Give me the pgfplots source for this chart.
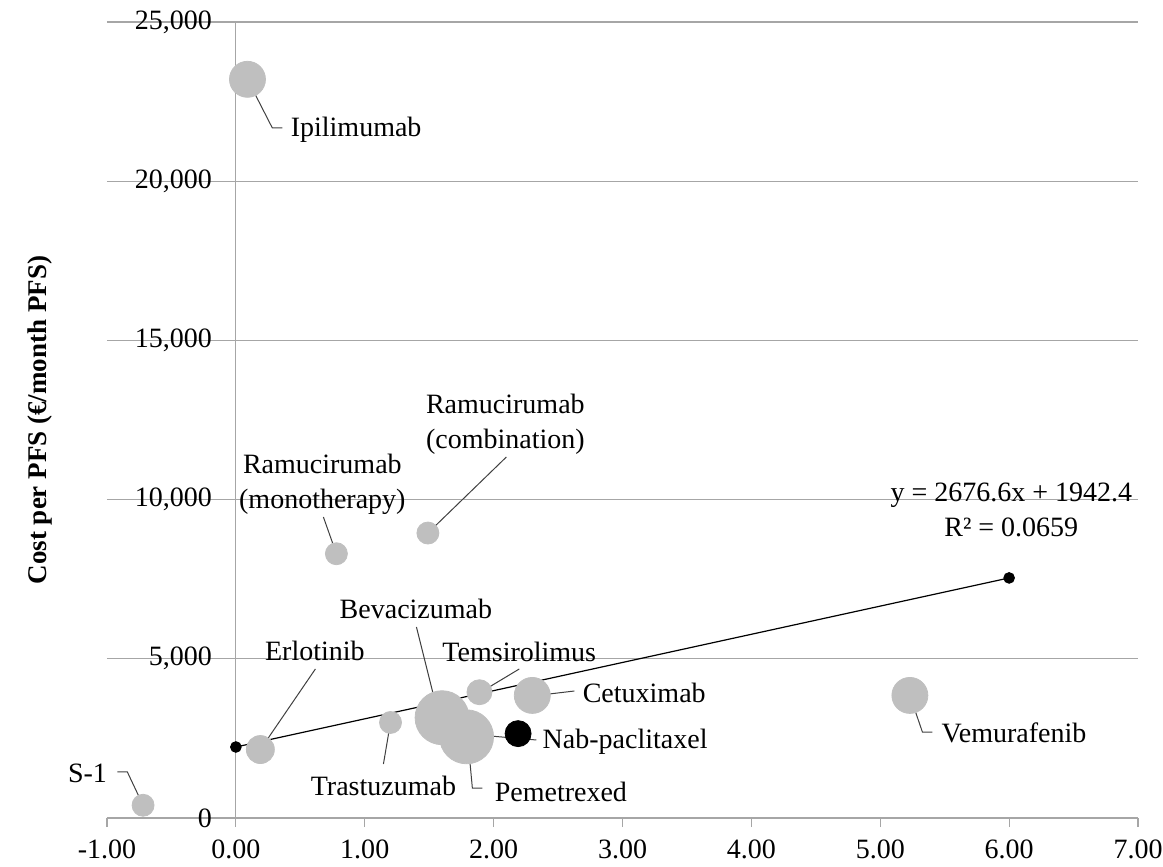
\documentclass[border=0pt]{standalone}
\usepackage{fontspec}
\setmainfont{Liberation Serif}
\usepackage{pgfplots}
\pgfplotsset{compat=1.18}

\definecolor{bubblegray}{HTML}{BFBFBF}
\definecolor{gridgray}{HTML}{A6A6A6}
\definecolor{leadergray}{HTML}{404040}

\pgfplotsset{bubble/.style={only marks, mark=*, mark size=#1, color=bubblegray,
  mark options={draw=none, fill=bubblegray}}}

\begin{document}
\begin{tikzpicture}[font=\fontsize{14}{17.5}\selectfont]
\begin{axis}[
  scale only axis, width=515.5pt, height=398pt,
  xmin=-1, xmax=7, ymin=0, ymax=25000,
  axis x line=bottom, axis y line=center,
  axis line style={-, draw=gridgray, line width=0.6pt},
  hide obscured x ticks=false, hide obscured y ticks=false,
  xtick={-1,0,1,2,3,4,5,6,7},
  xticklabels={-1.00,0.00,1.00,2.00,3.00,4.00,5.00,6.00,7.00},
  ytick={0,5000,10000,15000,20000,25000},
  yticklabels={0,{5,000},{10,000},{15,000},{20,000},{25,000}},
  scaled y ticks=false,
  ymajorgrids, major grid style={gridgray, line width=0.6pt},
  tick align=outside, major tick length=4.5pt,
  xtick style={gridgray, line width=0.6pt},
  ytick style={draw=none},
  yticklabel style={anchor=east, xshift=-4pt},
  xticklabel style={yshift=-3pt},
  clip=false,
]
% bubbles (x = PFS gain, y = cost per PFS; mark size = bubble radius)
\addplot[bubble=5.5pt]  coordinates {(-0.72,400)};    % S-1
\addplot[bubble=9pt]    coordinates {(0.09,23200)};   % Ipilimumab
\addplot[bubble=5.5pt]  coordinates {(0.78,8300)};    % Ramucirumab mono
\addplot[bubble=5.5pt]  coordinates {(1.49,8950)};    % Ramucirumab comb
\addplot[bubble=7pt]    coordinates {(0.19,2150)};    % Erlotinib
\addplot[bubble=5.5pt]  coordinates {(1.20,3000)};    % Trastuzumab
\addplot[bubble=13.5pt] coordinates {(1.60,3150)};    % Bevacizumab
\addplot[bubble=13.5pt] coordinates {(1.79,2550)};    % Pemetrexed
\addplot[bubble=6.25pt] coordinates {(1.89,3950)};    % Temsirolimus
\addplot[bubble=9pt]    coordinates {(2.30,3850)};    % Cetuximab
\addplot[bubble=9pt]    coordinates {(5.23,3850)};    % Vemurafenib

% leader lines
\begin{scope}[leadergray, line width=0.5pt]
\draw (axis cs:-0.920,1445) -- (axis cs:-0.842,1445) -- (axis cs:-0.72,400);
\draw (axis cs:0.09,23200) -- (axis cs:0.283,21671) -- (axis cs:0.361,21671);
\draw (axis cs:0.679,9454) -- (axis cs:0.78,8300);
\draw (axis cs:1.49,8950) -- (axis cs:2.099,11338);
\draw (axis cs:0.617,4680) -- (axis cs:0.19,2150);
\draw (axis cs:1.401,5999) -- (axis cs:1.595,2860);
\draw (axis cs:2.199,4680) -- (axis cs:1.889,3926);
\draw (axis cs:1.145,1696) -- (axis cs:1.199,2984);
\draw (axis cs:1.796,2638) -- (axis cs:1.835,942) -- (axis cs:1.913,942);
\draw (axis cs:1.796,2638) -- (axis cs:2.332,2450);
\draw (axis cs:2.301,3832) -- (axis cs:2.627,3989);
\draw (axis cs:5.23,3850) -- (axis cs:5.327,2701) -- (axis cs:5.404,2701);
\end{scope}

% trend line
\addplot[black, line width=0.6pt, mark=*, mark size=2.6pt, mark options={fill=black}]
  coordinates {(0,2230) (6,7540)};

% Nab-paclitaxel (black bubble)
\addplot[only marks, mark=*, mark size=6.5pt, color=black, mark options={draw=none, fill=black}]
  coordinates {(2.19,2650)};

% labels
\node[anchor=east, inner sep=0pt] at (axis cs:-0.997,1413) {S-1};
\node[anchor=west, inner sep=0pt] at (axis cs:0.423,21608) {Ipilimumab};
\node[align=center, inner sep=0pt] at (axis cs:0.671,10474) {Ramucirumab\\(monotherapy)};
\node[align=center, inner sep=0pt] at (axis cs:2.091,12360) {Ramucirumab\\(combination)};
\node[inner sep=0pt] at (axis cs:0.613,5245) {Erlotinib};
\node[inner sep=0pt] at (axis cs:1.397,6564) {Bevacizumab};
\node[inner sep=0pt] at (axis cs:2.199,5214) {Temsirolimus};
\node[inner sep=0pt] at (axis cs:1.145,1005) {Trastuzumab};
\node[anchor=west, inner sep=0pt] at (axis cs:2.006,817) {Pemetrexed};
\node[anchor=west, inner sep=0pt] at (axis cs:2.378,2387) {Nab-paclitaxel};
\node[anchor=west, inner sep=0pt] at (axis cs:2.689,3926) {Cetuximab};
\node[anchor=west, inner sep=0pt] at (axis cs:5.474,2670) {Vemurafenib};
\node[align=center, inner sep=0pt] at (axis cs:6.017,9673) {y = 2676.6x + 1942.4\\R² = 0.0659};

% y axis label
\node[rotate=90, font=\fontsize{13.5}{17.5}\selectfont\bfseries] at (axis description cs:-0.065,0.5) {Cost per PFS (€/month PFS)};
\end{axis}
\pgfresetboundingbox
\path ([xshift=-53.5pt, yshift=-24pt]current axis.south west) rectangle ([xshift=12.5pt, yshift=11pt]current axis.north east);
\end{tikzpicture}
\end{document}
